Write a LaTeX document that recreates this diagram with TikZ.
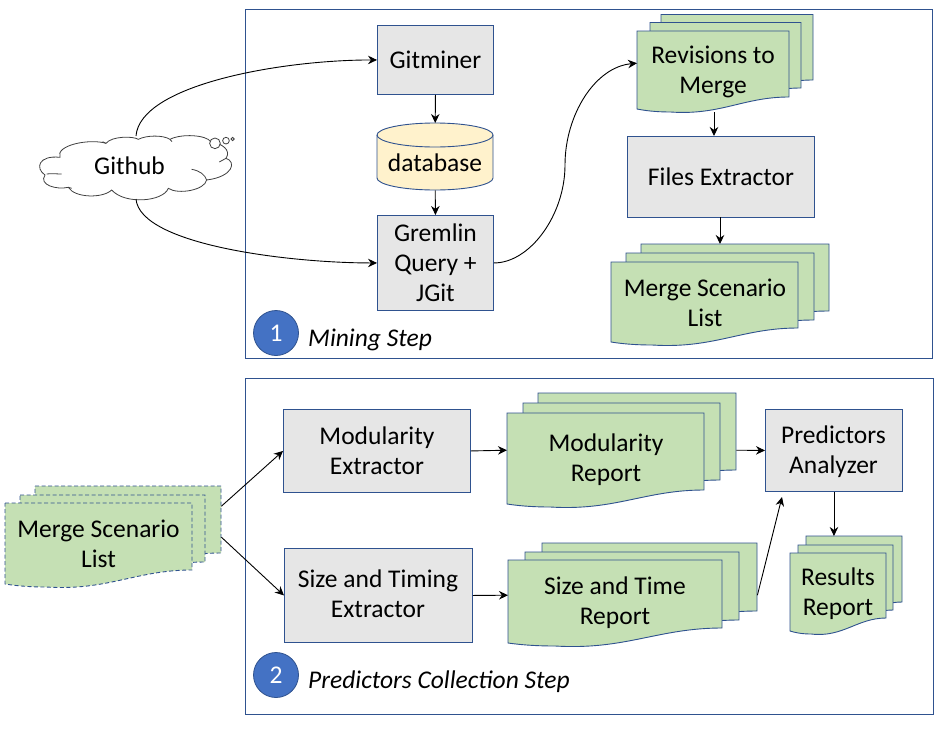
\documentclass[tikz,border=0pt]{standalone}
\usepackage{fontspec}
\setmainfont{Carlito}
\usetikzlibrary{arrows.meta,calc}
\definecolor{edgeblue}{HTML}{2F528F}
\definecolor{docgreen}{HTML}{C5E0B4}
\definecolor{boxgrey}{HTML}{E6E6E6}
\definecolor{dbyellow}{HTML}{FFF2CC}
\definecolor{stepblue}{HTML}{4472C4}
\tikzset{
  x=1pt,y=-1pt,
  frame/.style={draw=edgeblue,line width=0.9pt,fill=none},
  boxnode/.style={draw=edgeblue,line width=0.9pt,fill=boxgrey,font=\fontsize{25.5}{30}\selectfont,align=center,inner sep=0pt,anchor=north west},
  docshape/.style={draw=edgeblue,line width=0.9pt,fill=docgreen},
  docdash/.style={docshape,dash pattern=on 4pt off 2.5pt},
  lbl/.style={font=\fontsize{25.5}{30}\selectfont,align=center,inner sep=0pt},
  steplbl/.style={font=\fontsize{25.5}{30}\selectfont\itshape,inner sep=0pt,anchor=west},
  stepdot/.style={circle,fill=stepblue,draw=edgeblue,line width=0.8pt,minimum size=45pt,inner sep=0pt,text=white,font=\fontsize{25.5}{30}\selectfont},
  conn/.style={-{Stealth[length=9pt,width=8.5pt]},black,line width=0.9pt},
  area/.style={inner sep=0pt,anchor=north west}
}
% \docpage{name}{style}{left}{top}{right}{bottom right}{bottom left}
\newcommand{\docpage}[7]{%
  \path[#2] (#3,#4) -- (#5,#4) -- (#5,#6)
    .. controls ({#5-0.30*(#5-#3)},#6) and ({#5-0.45*(#5-#3)},{#7+3.5+0.25*(#7-#6)}) .. ({#3+0.22*(#5-#3)},{#7+3})
    .. controls ({#3+0.12*(#5-#3)},{#7+3}) and ({#3+0.05*(#5-#3)},{#7+1.5}) .. (#3,#7) -- cycle;
  \node[area,minimum width={(#5-#3)*1pt},minimum height={(#7-#4)*1pt}] (#1) at (#3,#4) {};
}
\begin{document}
\begin{tikzpicture}
\useasboundingbox (0,0) rectangle (944,736);
\fill[white] (0,0) rectangle (944,736);
% frames
\draw[frame] (245,9) rectangle (932.5,358);
\draw[frame] (245.5,378.5) rectangle (933,714);

% upper boxes
\node[boxnode,minimum width=116pt,minimum height=69pt] (gitminer) at (377,25) {Gitminer};
\node[boxnode,minimum width=116pt,minimum height=95pt] (gremlin) at (377,215) {Gremlin\\Query +\\JGit};
\node[boxnode,minimum width=187pt,minimum height=81pt] (files) at (627,136) {Files Extractor};

% database
\path[draw=edgeblue,line width=0.9pt,fill=dbyellow]
  (377,135) -- (377,178) .. controls (377,184.6) and (403,190) .. (435,190)
  .. controls (467,190) and (493,184.6) .. (493,178) -- (493,135)
  .. controls (493,128.4) and (467,123) .. (435,123)
  .. controls (403,123) and (377,128.4) .. (377,135) -- cycle;
\path[draw=edgeblue,line width=0.9pt]
  (377,135) .. controls (377,141.6) and (403,147) .. (435,147)
  .. controls (467,147) and (493,141.6) .. (493,135);
\node[area,minimum width=116pt,minimum height=67pt] (dbarea) at (377,123) {};
\node[lbl] (dbtext) at (435,163) {database};

% Revisions stack
\docpage{revA}{docshape}{661}{14.5}{813}{80}{93}
\docpage{revB}{docshape}{650}{22.5}{801}{88}{101}
\docpage{revC}{docshape}{637}{31}{789}{97}{109}
\node[lbl] (revT) at (713,72) {Revisions to\\Merge};

% Merge scenario stack (upper)
\docpage{msA}{docshape}{641}{244}{829}{311}{322}
\docpage{msB}{docshape}{626}{253}{814}{320}{331}
\docpage{msC}{docshape}{611}{262}{798}{328}{342}
\node[lbl] (msT) at (705,303) {Merge Scenario\\List};

% step 1
\node[stepdot] (dotA) at (276,333) {1};
\node[steplbl] (stepA) at (308,340) {Mining Step};

% cloud
\begin{scope}[shift={(0,100)},x=0.3333pt,y=-0.3333pt]
\path[draw=black!75,line width=0.8pt,fill=white]
  (180,172) .. controls (165,135) and (270,115) .. (318,130)
  .. controls (335,108) and (400,108) .. (415,118)
  .. controls (440,105) and (490,105) .. (510,118)
  .. controls (545,100) and (620,105) .. (632,125)
  .. controls (665,130) and (695,150) .. (678,175)
  .. controls (710,185) and (700,230) .. (620,240)
  .. controls (615,270) and (535,285) .. (505,265)
  .. controls (490,305) and (375,315) .. (335,270)
  .. controls (310,295) and (225,295) .. (205,262)
  .. controls (170,270) and (115,255) .. (135,225)
  .. controls (105,205) and (115,165) .. (180,172) -- cycle;
\draw[black!75,line width=0.8pt,fill=white] (645,130) circle[radius=16];
\draw[black!75,line width=0.8pt,fill=white] (678,122) circle[radius=10];
\draw[black!75,line width=0.8pt,fill=white] (698,117) circle[radius=5];
\draw[black!75,line width=0.8pt] (140,222) .. controls (155,220) and (170,222) .. (185,222);
\draw[black!75,line width=0.8pt] (575,208) .. controls (600,212) and (615,225) .. (620,240);
\draw[black!75,line width=0.8pt] (678,175) -- (658,186);
\draw[black!75,line width=0.8pt] (205,262) -- (215,265);
\draw[black!75,line width=0.8pt] (318,130) -- (308,125);
\draw[black!75,line width=0.8pt] (510,118) -- (516,125);
\end{scope}
\node[area,minimum width=191pt,minimum height=64pt] (cloudarea) at (41,135) {};
\node[lbl] (github) at (129.5,166) {Github};

% lower boxes
\node[boxnode,minimum width=187pt,minimum height=83pt] (modx) at (283,409) {Modularity\\Extractor};
\node[boxnode,minimum width=188pt,minimum height=94pt] (sizex) at (284,548) {};
\node[lbl] (sizexT) at (378,593.5) {Size and Timing\\Extractor};
\node[boxnode,minimum width=137pt,minimum height=82pt] (pred) at (765,409) {};
\node[lbl] (predT) at (833.5,452) {Predictors\\Analyzer};

% Modularity report stack
\docpage{modA}{docshape}{538}{393}{736}{470}{484}
\docpage{modB}{docshape}{523}{403}{720}{480}{494}
\docpage{modC}{docshape}{507}{413}{704}{490}{504}
\node[lbl] (modT) at (606,460) {Modularity\\Report};

% Size report stack
\docpage{sizeA}{docshape}{542}{543}{757}{611}{625}
\docpage{sizeB}{docshape}{525}{552}{739}{620}{634}
\docpage{sizeC}{docshape}{508}{560}{722}{628}{643}
\node[lbl] (sizeT) at (615,603) {Size and Time\\Report};

% Results stack
\docpage{resA}{docshape}{806}{536}{902}{602}{615}
\docpage{resB}{docshape}{798}{545}{893}{610}{623}
\docpage{resC}{docshape}{790}{553}{886}{618}{631}
\node[lbl] (resT) at (838,594) {Results\\Report};

% Merge scenario stack (left)
\docpage{inA}{docdash}{35}{486}{221}{553}{566}
\docpage{inB}{docdash}{20}{495}{205}{562}{575}
\docpage{inC}{docdash}{5}{503}{192}{570}{584}
\node[lbl] (inT) at (98.5,544) {Merge Scenario\\List};

% step 2
\node[stepdot] (dotB) at (276,675) {2};
\node[steplbl] (stepB) at (308,682) {Predictors Collection Step};

% connectors
\coordinate (cloudTop) at (136,136);
\coordinate (cloudBot) at (136,199);
\coordinate (midS) at (565,165);
\draw[conn] (cloudTop) .. controls (140,85) and (280,60) .. (gitminer.west);
\draw[conn] (cloudBot) .. controls (140,245) and (290,263) .. (gremlin.west);
\draw[conn] (gremlin.east) .. controls (530,263) and (565,215) .. (midS)
  .. controls (565,115) and (595,67) .. ([yshift=7pt]revC.west);
\draw[conn] (gitminer.south) -- (dbarea.north);
\draw[conn] (dbarea.south) -- (gremlin.north);
\draw[conn] (714,112) -- (714,136);
\draw[conn] (720,217) -- (720,244);
\draw[conn] ([yshift=20pt]inA.east) -- (modx.west);
\draw[conn] ([yshift=-11pt]inA.east) -- (sizex.west);
\draw[conn] (modx.east) -- ([yshift=8.5pt]modC.west);
\draw[conn] (sizex.east) -- ([yshift=6.5pt]sizeC.west);
\draw[conn] ([yshift=-11.5pt]modA.east) -- (pred.west);
\draw[conn] ([yshift=-11pt]sizeA.east) -- (782,497);
\draw[conn] (pred.south) -- (resA.north -| pred.south);
\end{tikzpicture}
\end{document}
